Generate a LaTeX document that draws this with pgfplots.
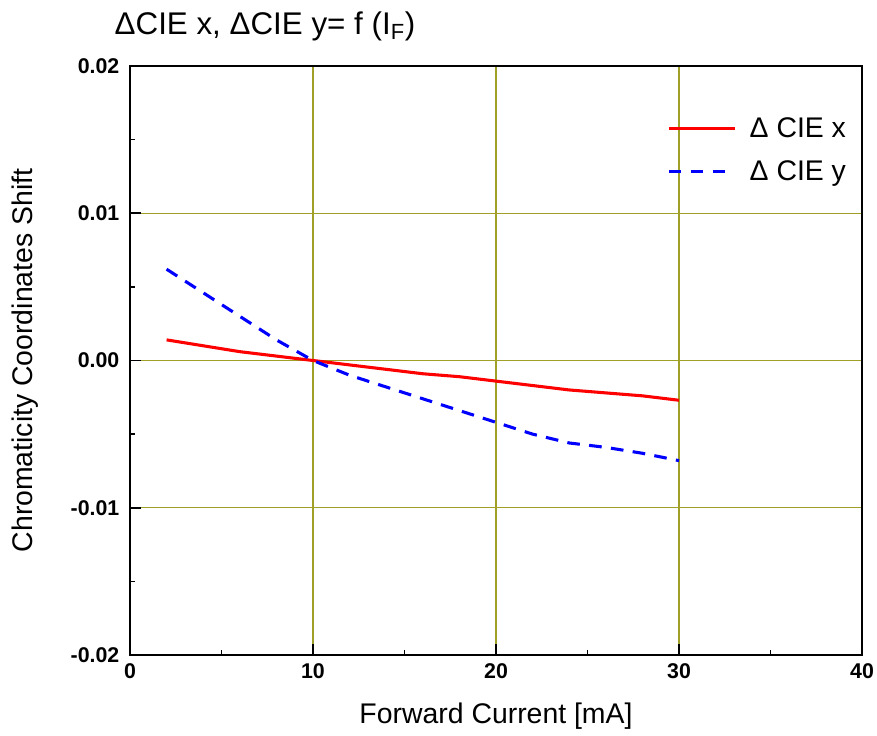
\documentclass[border=0pt]{standalone}
\usepackage{fontspec}
\setmainfont{Liberation Sans}
\usepackage{pgfplots}
\pgfplotsset{compat=1.18}
\definecolor{gridol}{RGB}{160,160,40}
\begin{document}
\begin{tikzpicture}
\useasboundingbox (-97.5pt,-60pt) rectangle (560.25pt,491.25pt);
\begin{axis}[
 at={(0pt,0pt)}, anchor=south west, scale only axis,
 width=549pt, height=441.75pt,
 xmin=0, xmax=40, ymin=-0.02, ymax=0.02,
 scaled ticks=false,
 xtick={0,10,20,30,40}, xticklabels={0,10,20,30,40},
 ytick={-0.02,-0.01,0,0.01,0.02}, yticklabels={-0.02,-0.01,0.00,0.01,0.02},
 minor x tick num=1, minor y tick num=1,
 tick align=inside, tick pos=left,
 major tick length=8pt, minor tick length=4pt,
 every tick/.style={black, line width=1.3pt},
 axis line style={line width=1.8pt},
 grid=major, major grid style={gridol, line width=1pt},
 ticklabel style={font=\bfseries\fontsize{16}{18}\selectfont},
 xticklabel style={yshift=-3pt},
 yticklabel style={xshift=-4.5pt},
 xlabel={Forward Current [mA]},
 ylabel={Chromaticity Coordinates Shift},
 label style={font=\fontsize{21.3}{24}\selectfont},
 xlabel style={at={(axis description cs:0.5,-0.1036)}, anchor=center},
 ylabel style={at={(axis description cs:-0.1434,0.5)}, anchor=center},
 legend style={at={(rel axis cs:0.7336,0.918)}, anchor=north west, draw=none, fill=none,
   inner sep=0pt, row sep=12pt, column sep=8pt, font=\fontsize{21.3}{24}\selectfont,
   nodes={inner sep=2pt}},
 legend cell align=left,
 legend image code/.code={\draw[#1] (0pt,0pt) -- (49.5pt,0pt);},
 clip=false,
]
\addplot[red, line width=2.3pt] coordinates {
(2,0.0014) (4,0.0010) (6,0.0006) (8,0.0003) (10,0) (12,-0.0003) (14,-0.0006)
(16,-0.0009) (18,-0.0011) (20,-0.0014) (22,-0.0017) (24,-0.0020) (26,-0.0022)
(28,-0.0024) (30,-0.0027)};
\addlegendentry{Δ CIE x}
\addplot[blue, line width=2.3pt, dash pattern=on 9.5pt off 7pt] coordinates {
(2,0.0062) (3,0.0054) (4,0.0046) (5,0.0038) (6,0.0030) (7,0.0022) (8,0.0014)
(9,0.0007) (10,0) (12,-0.0010) (14,-0.0018) (16,-0.0026) (18,-0.0034)
(20,-0.0042) (22,-0.0050) (24,-0.0056) (26,-0.0059) (28,-0.0063) (30,-0.0068)};
\addlegendentry{Δ CIE y}
\end{axis}
\node[anchor=base, font=\fontsize{23.5}{26}\selectfont] at (101.25pt,465.4pt)
 {ΔCIE x, ΔCIE y= f (I\textsubscript{F})};
\end{tikzpicture}
\end{document}
